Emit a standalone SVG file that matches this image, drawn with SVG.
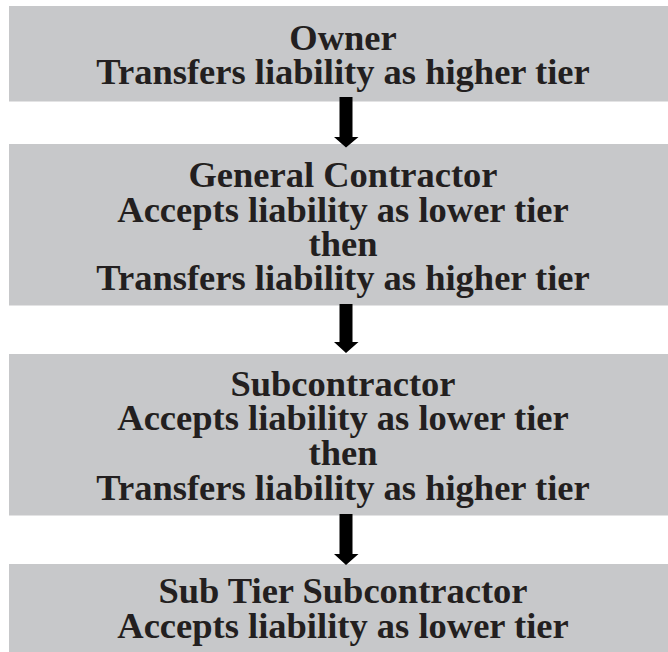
<svg xmlns="http://www.w3.org/2000/svg" width="668" height="652" viewBox="0 0 668 652">
<style>
.box{fill:#c7c8ca}
.t{font-family:"Liberation Serif","Times New Roman",serif;font-weight:bold;font-size:36.5px;fill:#231f20;text-anchor:middle}
.arr{fill:#000}
</style>
<rect width="668" height="652" fill="#fff"/>
<g id="owner">
<rect class="box" x="9" y="6" width="659" height="95.5"/>
<text class="t" x="343" y="49.5">Owner</text>
<text class="t" x="343" y="84">Transfers liability as higher tier</text>
</g>
<g id="general-contractor">
<rect class="box" x="9" y="144" width="659" height="161.5"/>
<text class="t" x="343" y="187">General Contractor</text>
<text class="t" x="343" y="221.5">Accepts liability as lower tier</text>
<text class="t" x="343" y="255.5">then</text>
<text class="t" x="343" y="290">Transfers liability as higher tier</text>
</g>
<g id="subcontractor">
<rect class="box" x="9" y="354" width="659" height="161.5"/>
<text class="t" x="343" y="395.5">Subcontractor</text>
<text class="t" x="343" y="430">Accepts liability as lower tier</text>
<text class="t" x="343" y="464.5">then</text>
<text class="t" x="343" y="499.5">Transfers liability as higher tier</text>
</g>
<g id="sub-tier-subcontractor">
<rect class="box" x="9" y="564" width="659" height="88"/>
<text class="t" x="343" y="603">Sub Tier Subcontractor</text>
<text class="t" x="343" y="638">Accepts liability as lower tier</text>
</g>
<g id="connectors">
<polygon class="arr" points="339.5,97 352.5,97 352.5,137 358.5,137 346,147.5 334,137 339.5,137"/>
<polygon class="arr" points="339.5,304 352.5,304 352.5,342 358.5,342 346,353 334,342 339.5,342"/>
<polygon class="arr" points="339.5,514 352.5,514 352.5,554 358.5,554 346,565 334,554 339.5,554"/>
</g>
</svg>
